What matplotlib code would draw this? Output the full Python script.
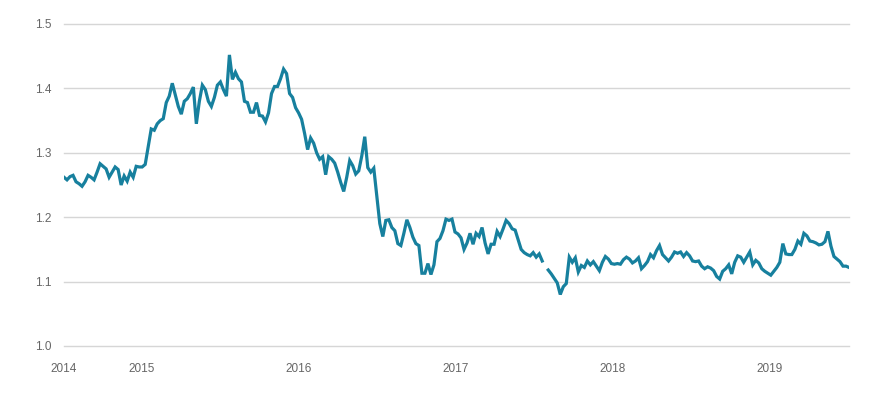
import numpy as np
import pandas as pd
import matplotlib
matplotlib.use('Agg')
import matplotlib.pyplot as plt

# %% Data (weekly)
seg1 = [1.262, 1.258, 1.263, 1.265, 1.255, 1.252, 1.248, 1.255, 1.265, 1.262,
        1.258, 1.270, 1.283, 1.279, 1.275, 1.262, 1.270, 1.278, 1.274, 1.250,
        1.264, 1.256, 1.270, 1.262, 1.279, 1.278, 1.278, 1.282]
seg2 = [1.310, 1.337, 1.335, 1.345, 1.350, 1.353, 1.378, 1.388, 1.408, 1.390,
        1.372, 1.360, 1.380, 1.384, 1.392, 1.402, 1.345, 1.380, 1.405, 1.398,
        1.380, 1.372, 1.386, 1.405, 1.410, 1.398, 1.388, 1.452, 1.414, 1.425,
        1.415, 1.410, 1.380, 1.378, 1.363, 1.363, 1.378, 1.358, 1.357, 1.348,
        1.362, 1.392, 1.403, 1.403, 1.415, 1.430, 1.423, 1.392, 1.386, 1.370,
        1.362, 1.352, 1.330, 1.305, 1.323, 1.315, 1.300, 1.290, 1.294, 1.266,
        1.294, 1.290, 1.284, 1.270, 1.254, 1.240, 1.262, 1.288, 1.280, 1.267,
        1.272, 1.295, 1.325, 1.277, 1.270, 1.276, 1.233, 1.190, 1.170, 1.195,
        1.196, 1.184, 1.179, 1.159, 1.156, 1.175, 1.196, 1.184, 1.169, 1.159,
        1.156, 1.113, 1.113, 1.128, 1.111, 1.126, 1.162, 1.167, 1.179, 1.197,
        1.195, 1.197, 1.177, 1.174, 1.168, 1.150, 1.160, 1.175, 1.158, 1.175,
        1.170, 1.184, 1.160, 1.143, 1.158, 1.158, 1.178, 1.170, 1.182, 1.195,
        1.190, 1.182, 1.180, 1.165, 1.150, 1.145, 1.142, 1.140, 1.145, 1.138,
        1.143, 1.132]
gap = [np.nan]
seg3 = [1.118, 1.112, 1.105, 1.098, 1.080, 1.092, 1.097, 1.138, 1.130, 1.137,
        1.115, 1.125, 1.122, 1.132, 1.126, 1.131, 1.124, 1.117, 1.130, 1.139,
        1.135, 1.128, 1.127, 1.128, 1.127, 1.134, 1.138, 1.135, 1.129, 1.132,
        1.137, 1.120, 1.125, 1.131, 1.142, 1.137, 1.148, 1.156, 1.142, 1.137,
        1.132, 1.138, 1.146, 1.144, 1.146, 1.139, 1.145, 1.140, 1.132, 1.131,
        1.132, 1.124, 1.120, 1.123, 1.121, 1.117, 1.108, 1.104, 1.116, 1.120,
        1.126, 1.112, 1.130, 1.140, 1.138, 1.130, 1.138, 1.146, 1.126, 1.133,
        1.129, 1.120, 1.116, 1.113, 1.110, 1.116, 1.122, 1.130, 1.159, 1.143,
        1.142, 1.142, 1.150, 1.163, 1.158, 1.175, 1.171, 1.163, 1.162, 1.160,
        1.157, 1.158, 1.162, 1.178, 1.155, 1.139, 1.135, 1.131, 1.124, 1.124,
        1.122]
values = seg1 + seg2 + gap + seg3
dates = pd.date_range('2014-07-04', periods=len(values), freq='7D')

yticks = [1.0, 1.1, 1.2, 1.3, 1.4, 1.5]
year_labels = ['2014', '2015', '2016', '2017', '2018', '2019']
year_ticks = [dates[0]] + [pd.Timestamp(f'{y}-01-01') for y in year_labels[1:]]

# %% Plot
plt.rcParams['font.family'] = ['Liberation Sans', 'DejaVu Sans']
fig = plt.figure(figsize=(8.88, 3.95), dpi=100)
ax = fig.add_axes([64/888, 1-346/395, (849-64)/888, (346-24)/395])

ax.plot(dates, values, color='#17809e', lw=2.3, solid_joinstyle='miter')

ax.set_xlim(dates[0], dates[-1])
ax.set_ylim(1.0, 1.5)
ax.set_yticks(yticks)
ax.set_yticklabels([f'{v:.1f}' for v in yticks])
ax.set_xticks(year_ticks)
ax.set_xticklabels(year_labels)
ax.grid(axis='y', color='#d6d6d6', lw=1, clip_on=False)
ax.set_axisbelow(True)
for s in ax.spines.values():
    s.set_visible(False)
ax.tick_params(axis='both', length=0, labelsize=8.5, colors='#666666')
ax.tick_params(axis='y', pad=9)
ax.tick_params(axis='x', pad=12)

fig.savefig('out.png', dpi=100)
